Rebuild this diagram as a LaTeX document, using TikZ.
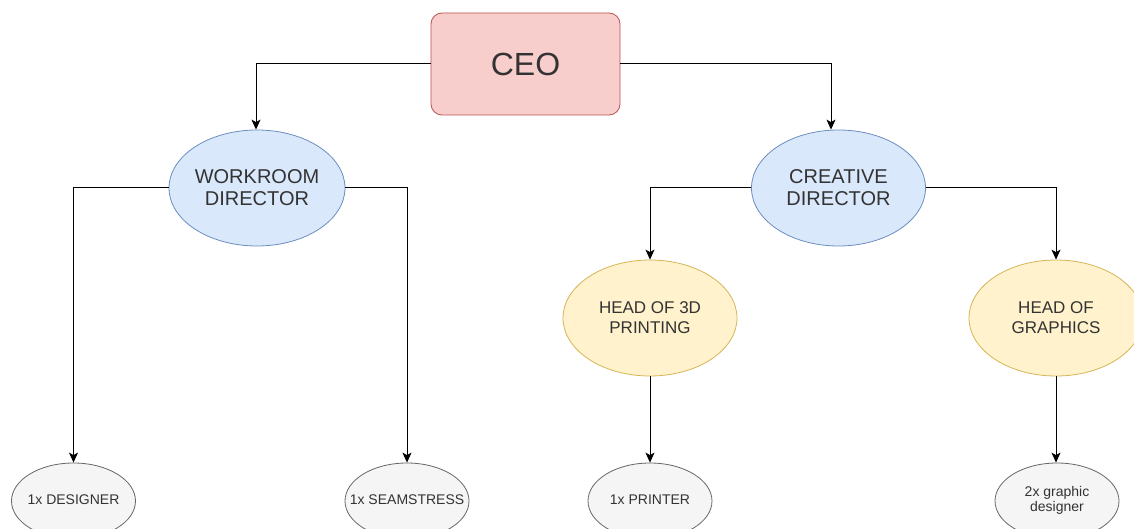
\documentclass[tikz,border=0pt]{standalone}
\usepackage{fontspec}
\setmainfont{Liberation Sans}
\usetikzlibrary{shapes.geometric,arrows.meta}
\definecolor{txt}{HTML}{333333}
\definecolor{redF}{HTML}{F8CECC}\definecolor{redD}{HTML}{B85450}
\definecolor{bluF}{HTML}{DAE8FC}\definecolor{bluD}{HTML}{6C8EBF}
\definecolor{yelF}{HTML}{FFF2CC}\definecolor{yelD}{HTML}{D6B656}
\definecolor{gryF}{HTML}{F5F5F5}\definecolor{gryD}{HTML}{666666}
\newcommand{\zbox}[1]{\makebox[0pt][c]{\begin{tabular}{@{}c@{}}#1\end{tabular}}}
\begin{document}
\begin{tikzpicture}[x=1pt,y=-1pt,
  base/.style={text=txt,align=center,inner sep=0pt,line width=0.8pt},
  ceobox/.style={base,draw=redD,fill=redF,rounded corners=11pt,minimum width=189pt,minimum height=102pt,font=\fontsize{32}{36}\selectfont},
  dirnode/.style={base,ellipse,draw=bluD,fill=bluF,minimum width=174pt,minimum height=116pt,font=\fontsize{20}{22}\selectfont},
  headnode/.style={base,ellipse,draw=yelD,fill=yelF,minimum width=174pt,minimum height=116pt,font=\fontsize{17}{20}\selectfont},
  staffnode/.style={base,ellipse,draw=gryD,fill=gryF,minimum width=124pt,minimum height=76pt,font=\fontsize{14}{16}\selectfont},
  arr/.style={line width=1pt,draw=black,-{Stealth[length=10pt,width=9pt,inset=2.5pt]}}
]
\useasboundingbox (0,0) rectangle (1134,529);
\clip (0,0) rectangle (1134,529);
\fill[white] (0,0) rectangle (1134,529);

\node[ceobox] (ceo) at (525.5,64) {CEO};
\node[dirnode] (wd) at (257,188) {WORKROOM\\DIRECTOR};
\node[dirnode] (cd) at (838.5,188) {CREATIVE\\DIRECTOR};
\node[headnode] (h3d) at (650,318) {HEAD OF 3D\\PRINTING};
\node[headnode] (hg) at (1056,318) {HEAD OF\\GRAPHICS};
\node[staffnode] (des) at (73.5,501) {\zbox{1x DESIGNER}};
\node[staffnode] (sea) at (407,501) {\zbox{1x SEAMSTRESS}};
\node[staffnode] (pri) at (650,501) {\zbox{1x PRINTER}};
\node[staffnode] (gd) at (1057,501) {\zbox{2x graphic\\[-1pt]designer}};

\draw[arr] (ceo.west) -| ([xshift=-1pt]wd.north);
\draw[arr] (ceo.east) -| ([xshift=-7.5pt]cd.north);
\draw[arr] (wd.west) -| (des.north);
\draw[arr] (wd.east) -| (sea.north);
\draw[arr] (cd.west) -| (h3d.north);
\draw[arr] (cd.east) -| (hg.north);
\draw[arr] (h3d.south) -- (pri.north);
\draw[arr] (hg.south) -- ([xshift=-1pt]gd.north);
\end{tikzpicture}
\end{document}
